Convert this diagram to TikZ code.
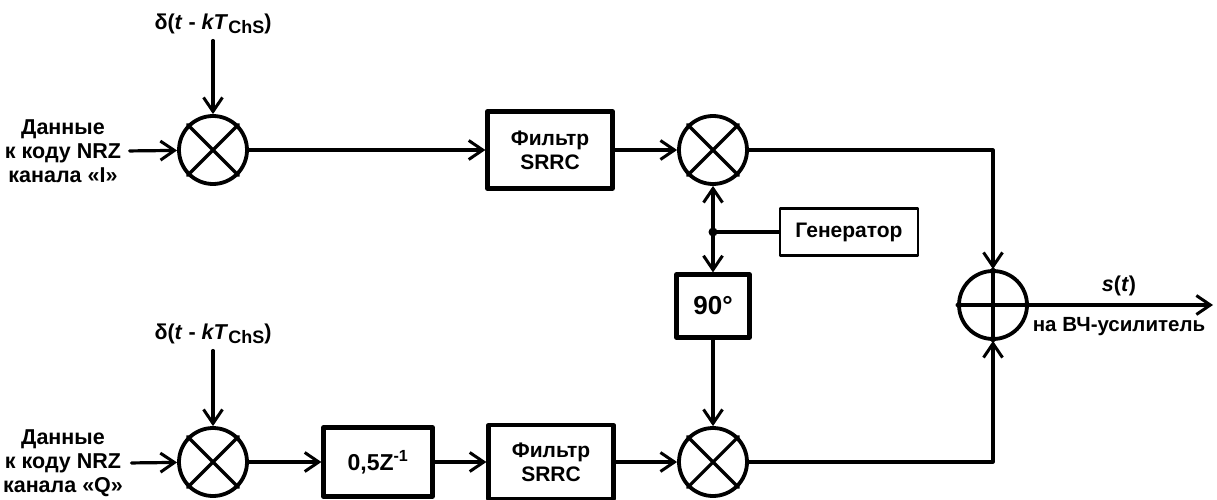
\documentclass[tikz,border=0pt]{standalone}
\usepackage{fontspec}
\setmainfont{Liberation Sans}
\usetikzlibrary{arrows.meta,calc,positioning}

\begin{document}
\begin{tikzpicture}[x=1pt,y=-1pt,>={Straight Barb[length=14pt,width=19pt,line width=3pt]},line cap=round,line join=round]
\useasboundingbox[fill=white] (0,0) rectangle (1217,500);
\tikzset{wire/.style={draw=black,line width=3.2pt},mixer/.style={circle,draw=black,line width=3.8pt,minimum size=68pt,inner sep=0pt},box/.style={draw=black,line width=4.2pt,align=center,inner sep=0pt,font=\bfseries\fontsize{21}{24}\selectfont},thinbox/.style={draw=black,line width=2.8pt,inner sep=0pt,font=\bfseries\fontsize{21}{24}\selectfont},lbl/.style={align=center,font=\bfseries\fontsize{21.5}{24}\selectfont}}
% channel I
\node[lbl] (datI) at (63,151) {Данные\\к коду NRZ\\канала «I»};
\node[lbl] (dltI) at (213,24) {δ(\textit{t} - \textit{kT}\raisebox{-0.35ex}{\fontsize{18}{18}\selectfont ChS})};
\node[mixer] (mxI) at (213,150) {};
\node[box,minimum width=125pt,minimum height=77pt] (fltI) at (550,150) {Фильтр\\SRRC};
\node[mixer] (mxIc) at (713,150) {};
% carrier
\coordinate (jn) at (713,232);
\node[thinbox,minimum width=138pt,minimum height=47pt] (gen) at (849,232) {Генератор};
\node[box,minimum width=73pt,minimum height=63pt,font=\bfseries\fontsize{26}{26}\selectfont] (ph) at (713,306) {90°};
% channel Q
\node[lbl] (datQ) at (63,463) {Данные\\к коду NRZ\\канала «Q»};
\node[lbl] (dltQ) at (213,334) {δ(\textit{t} - \textit{kT}\raisebox{-0.35ex}{\fontsize{18}{18}\selectfont ChS})};
\node[mixer] (mxQ) at (213,462) {};
\node[box,minimum width=109pt,minimum height=69pt,font=\bfseries\fontsize{23}{23}\selectfont] (dly) at (378,462) {0,5Z\textsuperscript{-1}};
\node[box,minimum width=125pt,minimum height=74pt] (fltQ) at (551,462) {Фильтр\\SRRC};
\node[mixer] (mxQc) at (713,462) {};
% adder and output
\node[mixer] (sum) at (993,305) {};
\coordinate (out) at (1213,305);
\node[lbl] (sig) at (1119,286) {\textit{s}(\textit{t})};
\node[lbl,font=\bfseries\fontsize{20.5}{24}\selectfont] (amp) at (1119,327) {на ВЧ-усилитель};
% crosses
\foreach \m in {mxI,mxIc,mxQ,mxQc}
  \draw[line width=3.2pt] (\m.45) -- (\m.225) (\m.135) -- (\m.315);
\draw[line width=3.2pt] (sum.north) -- (sum.south) (sum.west) -- (sum.east);
% connections
\draw[wire,->,shorten <=5pt] (datI.east) -- (mxI);
\draw[wire,->,shorten <=3pt] (dltI) -- (mxI);
\draw[wire,->] (mxI) -- (fltI);
\draw[wire,->] (fltI) -- (mxIc);
\draw[wire,->] (jn) -- (mxIc);
\draw[wire,->] (jn) -- (ph);
\draw[wire] (gen) -- (jn);
\fill (jn) circle (4.5);
\draw[wire,->] (ph) -- (mxQc);
\draw[wire,->,shorten <=5pt] (datQ.east) -- (mxQ);
\draw[wire,->,shorten <=3pt] (dltQ) -- (mxQ);
\draw[wire,->] (mxQ) -- (dly);
\draw[wire,->] (dly) -- (fltQ);
\draw[wire,->] (fltQ) -- (mxQc);
\draw[wire,->] (mxIc) -| (sum);
\draw[wire,->] (mxQc) -| (sum);
\draw[wire,->] (sum) -- (out);
\end{tikzpicture}
\end{document}
